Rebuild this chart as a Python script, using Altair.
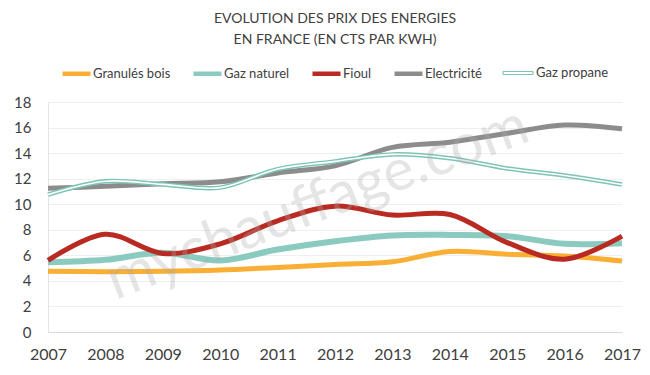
import altair as alt
import pandas as pd

years = list(range(2007, 2018))
series = ["Granulés bois", "Gaz naturel", "Fioul", "Electricité", "Gaz propane"]
colors = ["#F9AE34", "#8BCBBF", "#B92B22", "#8C8C8C", "#7DC4B5"]
y_ticks = [0, 2, 4, 6, 8, 10, 12, 14, 16, 18]

granules = [4.75, 4.72, 4.75, 4.85, 5.05, 5.28, 5.5, 6.3, 6.08, 5.95, 5.55]
gaz_naturel = [5.45, 5.65, 6.2, 5.6, 6.45, 7.1, 7.55, 7.6, 7.5, 6.9, 6.95]
fioul = [5.6, 7.65, 6.15, 6.9, 8.7, 9.85, 9.15, 9.2, 7.0, 5.7, 7.5]
electricite = [11.25, 11.4, 11.6, 11.75, 12.45, 13.0, 14.45, 14.85, 15.55, 16.2, 15.9]
propane = [10.75, 11.8, 11.55, 11.3, 12.75, 13.35, 13.9, 13.6, 12.8, 12.25, 11.55]

title_lines = ["EVOLUTION DES PRIX DES ENERGIES", "EN FRANCE (EN CTS PAR KWH)"]
watermark = "mychauffage.com"

all_values = [granules, gaz_naturel, fioul, electricite, propane]
rows = []
for s, vals in zip(series, all_values):
    for y, v in zip(years, vals):
        rows.append({"year": y, "value": v, "series": s})
df = pd.DataFrame(rows)

FONT = "Lato"
TXT = "#404040"
PROPANE = series[4]
PROPANE_COLOR = colors[4]

color_scale = alt.Scale(domain=series[:4], range=colors[:4])

color_legend = alt.Legend(
    title=None, orient="none", legendX=12, legendY=-45,
    direction="horizontal", columns=4,
    symbolType="stroke", symbolSize=784, symbolStrokeWidth=4.5,
    columnPadding=13, labelOffset=0,
)
propane_legend = alt.Legend(
    title=None, orient="none", legendX=454, legendY=-45,
    direction="horizontal", columns=1,
    symbolType="M-1,-0.1H1V0.1H-1Z", symbolSize=900, symbolStrokeWidth=1.2,
    labelOffset=2,
)

x_enc = alt.X(
    "year:Q",
    scale=alt.Scale(domain=[2007, 2017], nice=False, zero=False),
    axis=alt.Axis(
        values=years, tickCount=30, format="d", title=None, grid=False, ticks=False,
        labelFont=FONT, labelFontSize=16, labelColor=TXT, labelPadding=14,
        labelFlush=False, labelOverlap=False, domainColor="#d9d9d9", domainWidth=1,
    ),
)
y_enc = alt.Y(
    "value:Q",
    scale=alt.Scale(domain=[0, 18], nice=False, zero=True),
    axis=alt.Axis(
        values=y_ticks, tickCount=30, format="d", title=None, ticks=False,
        labelFont=FONT, labelFontSize=15, labelColor=TXT, labelPadding=17,
        labelOverlap=False, labelFlush=False,
        gridColor="#efefef", gridWidth=1, domainColor="#e3e3e3", domainWidth=1,
    ),
)

widths = {"Granulés bois": 5, "Gaz naturel": 6, "Fioul": 5, "Electricité": 5}

layers = []
for i, s in enumerate(series[:4]):
    layer = (
        alt.Chart(df)
        .transform_filter(alt.datum.series == s)
        .mark_line(interpolate="catmull-rom", strokeWidth=widths[s], strokeCap="butt")
        .encode(
            x=x_enc,
            y=y_enc,
            color=alt.Color("series:N", scale=color_scale, legend=color_legend if i == 0 else None),
        )
    )
    layers.append(layer)

# thin line hidden under the propane double line; carries the propane legend entry
propane_key = (
    alt.Chart(df)
    .transform_filter(alt.datum.series == PROPANE)
    .mark_line(interpolate="catmull-rom", strokeWidth=1.2, color=PROPANE_COLOR)
    .encode(
        x=x_enc, y=y_enc,
        strokeDash=alt.StrokeDash(
            "series:N",
            scale=alt.Scale(domain=[PROPANE], range=[[1, 0]]),
            legend=propane_legend,
        ),
    )
)
propane_outer = (
    alt.Chart(df)
    .transform_filter(alt.datum.series == PROPANE)
    .mark_line(interpolate="catmull-rom", strokeWidth=4.5, color=PROPANE_COLOR)
    .encode(x=x_enc, y=y_enc)
)
propane_inner = (
    alt.Chart(df)
    .transform_filter(alt.datum.series == PROPANE)
    .mark_line(interpolate="catmull-rom", strokeWidth=1.6, color="#ffffff")
    .encode(x=x_enc, y=y_enc)
)
layers += [propane_key, propane_outer, propane_inner]

wm_df = pd.DataFrame({"year": [2011.7], "value": [10.0], "t": [watermark]})
wm = (
    alt.Chart(wm_df)
    .mark_text(angle=339, fontSize=58, font=FONT, color="#aaaaaa", opacity=0.3)
    .encode(x=x_enc, y=y_enc, text="t:N")
)
layers.append(wm)

chart = (
    alt.layer(*layers)
    .properties(
        width=574,
        height=230,
        autosize=alt.AutoSizeParams(type="none"),
        padding={"left": 48, "top": 102, "right": 28, "bottom": 43},
        background="white",
        title=alt.Title(
            title_lines, font=FONT, fontSize=14, fontWeight="normal", color=TXT,
            lineHeight=21, anchor="middle", frame="group", offset=10,
        ),
    )
    .configure_view(stroke=None)
    .configure_legend(labelFont=FONT, labelFontSize=13, labelColor=TXT)
)

chart.save("out.html", embed_options={"renderer": "svg", "actions": False})
